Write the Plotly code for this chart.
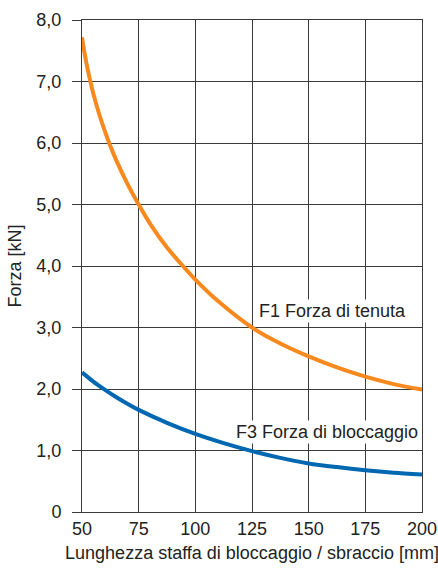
import plotly.graph_objects as go

# Arm length [mm] and forces [kN]
f1_len = [50, 51, 52, 53.5, 55, 57.5, 60, 62.2, 65, 70, 75, 80, 87.5, 95, 100, 110,
          125, 137.5, 150, 162.5, 175, 187.5, 200]
f1_force = [7.72, 7.49, 7.29, 7.03, 6.8, 6.48, 6.2, 5.98, 5.73, 5.34, 5.0, 4.69, 4.3, 3.98, 3.78, 3.43,
            3.0, 2.74, 2.53, 2.35, 2.2, 2.08, 1.99]

f3_len = [50, 55, 60, 65, 70, 75, 87.5, 100, 112.5, 125, 137.5, 150, 162.5, 175, 187.5, 200]
f3_force = [2.27, 2.12, 1.99, 1.87, 1.76, 1.66, 1.45, 1.27, 1.12, 0.99, 0.88, 0.79, 0.73, 0.68, 0.64, 0.61]

x_ticks = [50, 75, 100, 125, 150, 175, 200]
y_ticks = [0, 1, 2, 3, 4, 5, 6, 7, 8]
y_tick_text = ["0", "1,0", "2,0", "3,0", "4,0", "5,0", "6,0", "7,0", "8,0"]

label_f1 = "F1 Forza di tenuta"
label_f3 = "F3 Forza di bloccaggio"

ORANGE = "#F7891F"
BLUE = "#0067B1"
GRID = "#3a3a3a"
FONT = "Liberation Sans, Arial, sans-serif"
FS = 18

fig = go.Figure()
fig.add_trace(go.Scatter(x=f1_len, y=f1_force, mode="lines",
                         line=dict(color=ORANGE, width=4, shape="spline", smoothing=0.8),
                         hoverinfo="skip"))
fig.add_trace(go.Scatter(x=f3_len, y=f3_force, mode="lines",
                         line=dict(color=BLUE, width=4, shape="spline", smoothing=0.8),
                         hoverinfo="skip"))

fig.add_annotation(x=194, y=3.27, xref="x", yref="y", text=label_f1,
                   showarrow=False, xanchor="right", yanchor="middle",
                   bgcolor="white", borderpad=1,
                   font=dict(family=FONT, size=FS, color="#222"))
fig.add_annotation(x=199, y=1.30, xref="x", yref="y", text=label_f3,
                   showarrow=False, xanchor="right", yanchor="middle",
                   bgcolor="white", borderpad=1,
                   font=dict(family=FONT, size=FS, color="#222"))

fig.update_layout(
    width=438, height=570,
    margin=dict(l=82, r=16, t=20, b=58),
    paper_bgcolor="white", plot_bgcolor="white",
    showlegend=False,
    font=dict(family=FONT, size=FS, color="#222"),
    xaxis=dict(range=[50, 200], tickvals=x_ticks, showgrid=True, automargin=False,
               gridcolor=GRID, gridwidth=1, zeroline=False,
               showline=True, linecolor=GRID, linewidth=1, mirror=True,
               ticks="", ticklabelstandoff=0,
               title=dict(text="Lunghezza staffa di bloccaggio / sbraccio [mm]",
                          standoff=8, font=dict(size=FS)),
               tickfont=dict(size=FS)),
    yaxis=dict(range=[0, 8], tickvals=y_ticks, ticktext=y_tick_text,
               showgrid=True, automargin=False,
               gridcolor=GRID, gridwidth=1, zeroline=False,
               showline=True, linecolor=GRID, linewidth=1, mirror=True,
               ticks="outside", ticklen=9, tickcolor=GRID,
               tickwidth=1, ticklabelstandoff=7,
               title=dict(text="Forza [kN]", standoff=10, font=dict(size=FS)),
               tickfont=dict(size=FS)),
)

fig.write_html("out.html")
